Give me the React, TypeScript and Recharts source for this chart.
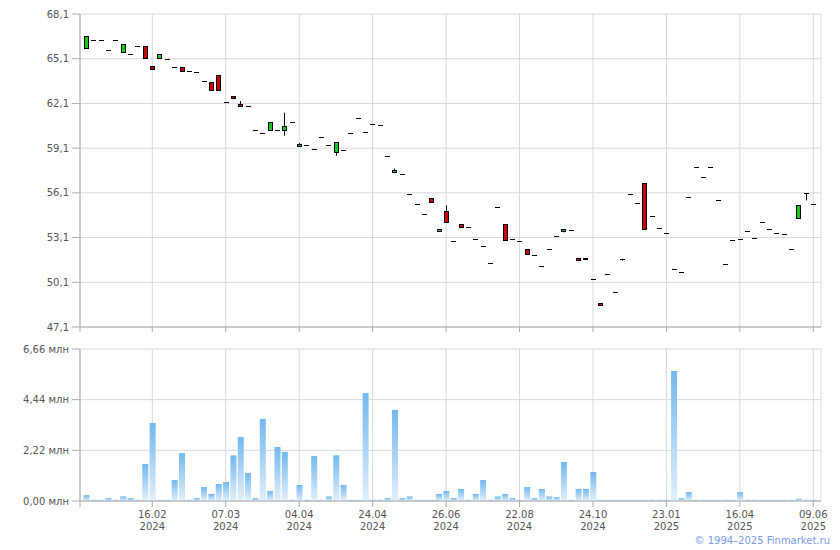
import React from 'react';
import { ComposedChart, BarChart, Bar, XAxis, YAxis, CartesianGrid } from 'recharts';

// price candles, one per trading session (index 0..99)
const openP = [
  65.84, 66.33, 66.33, 65.66, 66.33, 65.53, 65.42, 65.93, 65.93, 64.59,
  65.13, 65.06, 64.52, 64.52, 64.25, 64.21, 63.6, 63.54, 63.99, 62.17,
  62.58, 62.04, 61.9, 60.29, 60.11, 60.29, 60.29, 60.29, 60.83, 59.22,
  59.29, 59.02, 59.82, 59.29, 58.86, 58.95, 60.09, 61.1, 60.16, 60.7,
  60.63, 58.55, 57.5, 57.34, 56.0, 55.33, 54.66, 55.77, 53.54, 54.86,
  52.84, 53.99, 53.78, 52.98, 52.51, 51.37, 55.13, 53.99, 52.98, 52.84,
  52.31, 51.9, 51.16, 52.31, 53.18, 53.52, 53.58, 51.7, 51.76, 50.29,
  48.68, 50.63, 49.42, 51.63, 56.0, 55.39, 56.78, 54.57, 53.72, 53.38,
  50.97, 50.76, 55.8, 57.81, 57.14, 57.81, 55.6, 51.3, 52.91, 52.98,
  53.52, 53.05, 54.12, 53.65, 53.38, 53.31, 52.31, 54.39, 56.07, 55.33,
];
const closeP = [
  66.6, 66.33, 66.33, 65.66, 66.33, 66.07, 65.42, 65.93, 65.13, 64.39,
  65.4, 65.06, 64.52, 64.25, 64.25, 64.21, 63.6, 62.98, 62.98, 62.17,
  62.44, 61.9, 61.85, 60.29, 60.11, 60.83, 60.29, 60.56, 60.83, 59.38,
  59.29, 59.02, 59.82, 59.29, 59.49, 58.95, 60.09, 61.1, 60.16, 60.7,
  60.63, 58.55, 57.61, 57.34, 56.0, 55.33, 54.66, 55.46, 53.65, 54.12,
  52.84, 53.83, 53.78, 52.98, 52.51, 51.37, 55.13, 52.91, 52.98, 52.84,
  51.97, 51.9, 51.16, 52.31, 53.18, 53.65, 53.58, 51.57, 51.69, 50.29,
  48.6, 50.63, 49.42, 51.63, 56.0, 55.39, 53.65, 54.57, 53.72, 53.38,
  50.97, 50.76, 55.8, 57.81, 57.14, 57.81, 55.6, 51.3, 52.91, 52.98,
  53.52, 53.05, 54.12, 53.65, 53.38, 53.31, 52.31, 55.26, 56.07, 55.33,
];
const highP = [
  66.6, 66.33, 66.33, 65.66, 66.33, 66.07, 65.42, 65.93, 65.93, 64.59,
  65.4, 65.06, 64.52, 64.52, 64.25, 64.21, 63.6, 63.54, 63.99, 62.17,
  62.58, 62.26, 61.9, 60.29, 60.11, 60.83, 60.29, 61.48, 60.83, 59.44,
  59.29, 59.02, 59.82, 59.29, 59.49, 58.95, 60.09, 61.1, 60.16, 60.7,
  60.63, 58.55, 57.74, 57.34, 56.0, 55.33, 54.66, 55.77, 53.65, 55.26,
  52.84, 53.99, 53.78, 52.98, 52.51, 51.37, 55.13, 53.99, 52.98, 52.84,
  52.31, 51.9, 51.16, 52.31, 53.18, 53.65, 53.58, 51.7, 51.76, 50.29,
  48.68, 50.63, 49.42, 51.63, 56.0, 55.39, 56.78, 54.57, 53.72, 53.38,
  50.97, 50.76, 55.8, 57.81, 57.14, 57.81, 55.6, 51.3, 52.91, 52.98,
  53.52, 53.05, 54.12, 53.65, 53.38, 53.31, 52.31, 55.26, 56.07, 55.33,
];
const lowP = [
  65.77, 66.33, 66.33, 65.66, 66.33, 65.53, 65.42, 65.93, 65.13, 64.39,
  65.13, 65.06, 64.52, 64.25, 64.25, 64.21, 63.6, 62.98, 62.98, 62.17,
  62.44, 61.9, 61.85, 60.29, 60.11, 60.29, 60.29, 59.93, 60.83, 59.22,
  59.29, 59.02, 59.82, 59.29, 58.59, 58.95, 60.09, 61.1, 60.16, 60.7,
  60.63, 58.55, 57.5, 57.34, 56.0, 55.33, 54.66, 55.46, 53.54, 54.12,
  52.84, 53.83, 53.78, 52.98, 52.51, 51.37, 55.13, 52.91, 52.98, 52.84,
  51.97, 51.9, 51.16, 52.31, 53.18, 53.45, 53.58, 51.57, 51.69, 50.29,
  48.6, 50.63, 49.42, 51.55, 56.0, 55.39, 53.65, 54.57, 53.72, 53.38,
  50.97, 50.76, 55.8, 57.81, 57.14, 57.81, 55.6, 51.3, 52.91, 52.98,
  53.52, 53.05, 54.12, 53.65, 53.38, 53.31, 52.31, 54.39, 55.6, 55.33,
];
// volume, millions
const volumeM = [
  0.26, 0.05, 0.05, 0.13, 0.05, 0.2, 0.13, 0.05, 1.62, 3.42,
  0.05, 0.05, 0.92, 2.1, 0.05, 0.13, 0.61, 0.31, 0.74, 0.83,
  2.0, 2.8, 1.23, 0.13, 3.6, 0.44, 2.37, 2.15, 0.05, 0.7,
  0.05, 1.97, 0.05, 0.2, 2.0, 0.7, 0.05, 0.05, 4.73, 0.05,
  0.05, 0.13, 3.99, 0.13, 0.2, 0.05, 0.05, 0.05, 0.31, 0.44,
  0.13, 0.53, 0.05, 0.31, 0.92, 0.05, 0.2, 0.31, 0.13, 0.05,
  0.61, 0.13, 0.53, 0.2, 0.17, 1.71, 0.05, 0.53, 0.53, 1.27,
  0.05, 0.05, 0.05, 0.05, 0.05, 0.05, 0.05, 0.05, 0.05, 0.05,
  5.7, 0.13, 0.39, 0.05, 0.05, 0.05, 0.05, 0.05, 0.05, 0.39,
  0.05, 0.05, 0.05, 0.05, 0.05, 0.05, 0.05, 0.1, 0.05, 0.05,
];

const tickIndex = [9, 19, 29, 39, 49, 59, 69, 79, 89, 99];
const tickDates = ['16.02', '07.03', '04.04', '24.04', '26.06', '22.08', '24.10', '23.01', '16.04', '09.06'];
const tickYears = ['2024', '2024', '2024', '2024', '2024', '2024', '2024', '2025', '2025', '2025'];
const priceTicks = [47.1, 50.1, 53.1, 56.1, 59.1, 62.1, 65.1, 68.1];
const volumeTicks = [0, 2.22, 4.44, 6.66];

const data = openP.map((open, i) => ({
  i,
  open,
  close: closeP[i],
  high: highP[i],
  low: lowP[i],
  vol: volumeM[i],
}));

const X_DOMAIN: [number, number] = [-0.844, 100.05];
const xTicks = [X_DOMAIN[0], ...tickIndex];

const GRID = '#d5d9dd';
const AXIS = '#a6aaae';
const TEXT = '#555';

function Candle(props: any) {
  const { x, y, width, height, payload } = props;
  if (!payload || x == null) return <g />;
  const { open, close, high, low } = payload;
  const top = Math.min(y, y + height);
  const bottom = Math.max(y, y + height);
  const span = high - low;
  const toY = (v: number) => (span > 0 ? top + ((high - v) / span) * (bottom - top) : top);
  const cx = Math.round(x + width / 2);
  const left = cx - 2;
  const yO = toY(open);
  const yC = toY(close);
  const bTop = Math.min(yO, yC);
  const bBot = Math.max(yO, yC);
  const flat = bBot - bTop < 1;
  const fill = close >= open ? '#18c818' : '#cc0000';
  return (
    <g>
      {span > 0 && (high > Math.max(open, close) || low < Math.min(open, close)) && (
        <line x1={cx + 0.5} x2={cx + 0.5} y1={top} y2={bottom} stroke="#000" strokeWidth={1} />
      )}
      {flat ? (
        <rect x={left} y={Math.round(yO)} width={5} height={1} fill="#000" />
      ) : (
        <rect
          x={left + 0.5}
          y={Math.round(bTop) + 0.5}
          width={4}
          height={Math.max(1, Math.round(bBot) - Math.round(bTop))}
          fill={fill}
          stroke="#000"
          strokeWidth={1}
        />
      )}
    </g>
  );
}

function DateTick(props: any) {
  const { x, y, payload } = props;
  const k = tickIndex.indexOf(payload.value);
  if (k < 0) return <g />;
  return (
    <text x={x} y={y} textAnchor="middle" fill={TEXT} fontSize={10}>
      <tspan x={x} dy={8.5}>{tickDates[k]}</tspan>
      <tspan x={x} dy={12}>{tickYears[k]}</tspan>
    </text>
  );
}

const fmtPrice = (v: number) => v.toFixed(1).replace('.', ',');
const fmtVol = (v: number) => `${v.toFixed(2).replace('.', ',')} млн`;

export default function App() {
  return (
    <div
      style={{
        position: 'absolute',
        left: 0,
        top: 0,
        width: 840,
        height: 550,
        background: '#fff',
        fontFamily: '"DejaVu Sans", Verdana, sans-serif',
      }}
    >
      <div style={{ position: 'absolute', left: 0, top: 0 }}>
        <ComposedChart width={840} height={340} data={data} margin={{ top: 14, right: 19, bottom: 8, left: 0 }}>
          <CartesianGrid stroke={GRID} />
          <XAxis
            dataKey="i"
            type="number"
            domain={X_DOMAIN}
            allowDataOverflow
            ticks={xTicks}
            tickFormatter={() => ''}
            height={5}
            tickSize={5}
            stroke={AXIS}
            tickLine={{ stroke: AXIS }}
          />
          <YAxis
            type="number"
            domain={[47.1, 68.1]}
            allowDataOverflow
            ticks={priceTicks}
            tickFormatter={fmtPrice}
            width={80}
            tickSize={8}
            tickMargin={3}
            stroke={AXIS}
            tick={{ fill: TEXT, fontSize: 10 }}
          />
          <Bar
            dataKey={(d: any) => [d.low, d.high]}
            barSize={5}
            shape={(p: any) => <Candle {...p} />}
            isAnimationActive={false}
          />
        </ComposedChart>
      </div>
      <div style={{ position: 'absolute', left: 0, top: 340 }}>
        <BarChart width={840} height={200} data={data} margin={{ top: 9, right: 19, bottom: 3, left: 0 }}>
          <defs>
            <linearGradient id="volGrad" x1="0" y1="0" x2="0" y2="1">
              <stop offset="0%" stopColor="#72b8ef" />
              <stop offset="100%" stopColor="#e2effa" />
            </linearGradient>
          </defs>
          <CartesianGrid stroke={GRID} />
          <XAxis
            dataKey="i"
            type="number"
            domain={X_DOMAIN}
            allowDataOverflow
            ticks={xTicks}
            tick={<DateTick />}
            height={36}
            tickSize={6}
            tickMargin={2}
            stroke={AXIS}
            tickLine={{ stroke: AXIS }}
          />
          <YAxis
            type="number"
            domain={[0, 6.66]}
            allowDataOverflow
            ticks={volumeTicks}
            tickFormatter={fmtVol}
            width={80}
            tickSize={8}
            tickMargin={3}
            stroke={AXIS}
            tick={{ fill: TEXT, fontSize: 10 }}
          />
          <Bar dataKey="vol" barSize={6} fill="url(#volGrad)" isAnimationActive={false} />
        </BarChart>
      </div>
      <div
        style={{
          position: 'absolute',
          right: 10,
          top: 535,
          fontSize: 10,
          color: '#7a9be6',
          whiteSpace: 'nowrap',
        }}
      >
        © 1994–2025 Finmarket.ru
      </div>
    </div>
  );
}
